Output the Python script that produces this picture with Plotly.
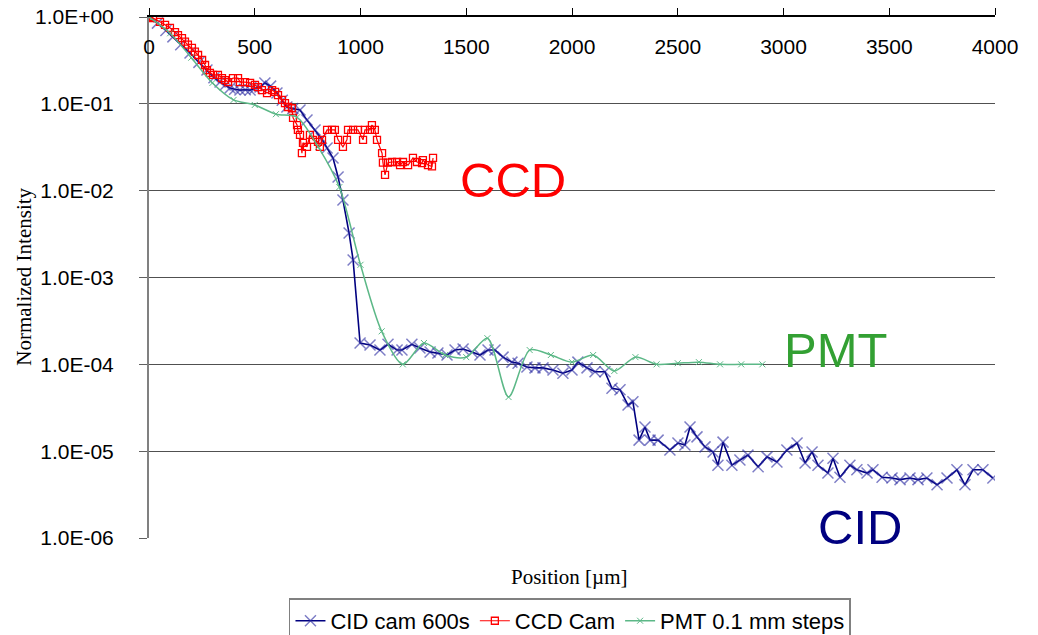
import plotly.graph_objects as go

# ---------------- data ----------------
cid_x = [0, 40, 80, 113, 150, 194, 236, 274, 307, 336, 360, 383, 405, 430, 455, 478, 500, 525, 548, 575,
         605, 630, 652, 680, 714, 747, 785, 815, 842, 870, 894, 917, 946, 965, 998, 1045, 1092, 1130, 1173,
         1196, 1243, 1281, 1329, 1366, 1409, 1447, 1485, 1527, 1565, 1603, 1636, 1674, 1716, 1745, 1787,
         1825, 1863, 1910, 1957, 2000, 2028, 2071, 2109, 2156, 2189, 2227, 2265, 2288, 2317, 2345, 2369,
         2407, 2463, 2501, 2534, 2558, 2591, 2629, 2667, 2690, 2714, 2756, 2794, 2832, 2880, 2922, 2969,
         3016, 3064, 3102, 3135, 3163, 3210, 3234, 3267, 3314, 3347, 3395, 3423, 3466, 3513, 3551, 3598,
         3636, 3678, 3726, 3773, 3820, 3858, 3896, 3943, 3990]
cid_y = [1.0, 0.85, 0.70, 0.59, 0.48, 0.385, 0.30, 0.245, 0.20, 0.178, 0.165, 0.152, 0.147, 0.144, 0.145,
         0.144, 0.150, 0.156, 0.174, 0.160, 0.133, 0.110, 0.092, 0.088, 0.085, 0.065, 0.050, 0.040, 0.031,
         0.0238, 0.0144, 0.0078, 0.00325, 0.00159, 1.76e-4, 1.67e-4, 1.46e-4, 1.70e-4, 1.46e-4, 1.46e-4,
         1.70e-4, 1.54e-4, 1.39e-4, 1.35e-4, 1.28e-4, 1.46e-4, 1.50e-4, 1.39e-4, 1.28e-4, 1.46e-4, 1.46e-4,
         1.21e-4, 1.06e-4, 1.03e-4, 9.3e-5, 9.1e-5, 9.1e-5, 8.6e-5, 7.9e-5, 8.6e-5, 1.06e-4, 9.1e-5, 8.2e-5,
         8.2e-5, 5.3e-5, 5.1e-5, 3.4e-5, 3.7e-5, 1.34e-5, 1.9e-5, 1.34e-5, 1.34e-5, 1.03e-5, 1.24e-5,
         1.18e-5, 1.9e-5, 1.46e-5, 1.12e-5, 9.8e-6, 6.9e-6, 1.27e-5, 6.9e-6, 7.9e-6, 9.0e-6, 6.6e-6, 8.6e-6,
         7.5e-6, 1.03e-5, 1.24e-5, 7.3e-6, 9.8e-6, 6.9e-6, 5.6e-6, 8.3e-6, 5.0e-6, 6.9e-6, 6.1e-6, 5.6e-6,
         6.1e-6, 5.0e-6, 4.9e-6, 4.7e-6, 4.9e-6, 4.7e-6, 4.9e-6, 4.1e-6, 4.9e-6, 6.1e-6, 4.1e-6, 6.1e-6,
         6.1e-6, 4.9e-6]

ccd_x = [0, 19, 52, 76, 99, 123, 137, 156, 170, 184, 203, 217, 232, 251, 265, 274, 288, 303, 326, 345,
         359, 374, 397, 421, 430, 454, 478, 501, 515, 534, 558, 582, 596, 610, 629, 643, 657, 676, 681,
         700, 704, 714, 723, 728, 747, 761, 775, 799, 808, 818, 842, 865, 879, 894, 917, 936, 941, 965,
         988, 1012, 1021, 1045, 1054, 1068, 1078, 1102, 1106, 1116, 1130, 1149, 1173, 1187, 1201, 1225,
         1248, 1267, 1291, 1295, 1319, 1338, 1343]
ccd_y = [1.0, 0.97, 0.88, 0.81, 0.75, 0.67, 0.62, 0.57, 0.52, 0.48, 0.44, 0.40, 0.365, 0.32, 0.28, 0.245,
         0.227, 0.215, 0.215, 0.198, 0.188, 0.178, 0.198, 0.198, 0.178, 0.178, 0.174, 0.165, 0.156, 0.144,
         0.133, 0.144, 0.137, 0.126, 0.111, 0.102, 0.092, 0.089, 0.069, 0.057, 0.050, 0.044, 0.027, 0.0355,
         0.032, 0.044, 0.0385, 0.0365, 0.032, 0.0385, 0.050, 0.050, 0.050, 0.0385, 0.032, 0.0385, 0.050,
         0.050, 0.050, 0.0385, 0.050, 0.050, 0.057, 0.050, 0.0385, 0.027, 0.021, 0.0152, 0.021, 0.0214,
         0.0214, 0.0197, 0.0214, 0.0197, 0.0238, 0.0214, 0.0208, 0.0225, 0.0197, 0.019, 0.0238]

pmt_x = [0, 100, 200, 300, 400, 500, 600, 700, 800, 900, 1000, 1100, 1200, 1300, 1400, 1500, 1600, 1700,
         1800, 1900, 2000, 2100, 2200, 2300, 2400, 2500, 2600, 2700, 2800, 2900]
pmt_y = [1.0, 0.65, 0.34, 0.174, 0.111, 0.097, 0.076, 0.070, 0.032, 0.011, 0.0014, 2.4e-4, 1.0e-4, 1.76e-4,
         1.28e-4, 1.21e-4, 2.0e-4, 4.2e-5, 1.46e-4, 1.28e-4, 1.06e-4, 1.28e-4, 8.4e-5, 1.21e-4, 1.0e-4,
         1.03e-4, 1.06e-4, 1.0e-4, 1.0e-4, 1.0e-4]

x_ticks = [0, 500, 1000, 1500, 2000, 2500, 3000, 3500, 4000]
y_ticks = [1e0, 1e-1, 1e-2, 1e-3, 1e-4, 1e-5, 1e-6]
y_tick_text = ["1.0E+00", "1.0E-01", "1.0E-02", "1.0E-03", "1.0E-04", "1.0E-05", "1.0E-06"]

series_names = ["CID cam 600s", "CCD Cam", "PMT 0.1 mm steps"]

SANS = "Liberation Sans, Arial, sans-serif"
SERIF = "Liberation Serif, Times New Roman, serif"

fig = go.Figure()

fig.add_trace(go.Scatter(
    x=cid_x, y=cid_y, name=series_names[0], mode="lines+markers",
    line=dict(color="#000080", width=1.6),
    marker=dict(symbol="x-thin", size=11, color="rgba(40,40,160,0.6)",
                line=dict(color="rgba(40,40,160,0.6)", width=1.5)),
))
fig.add_trace(go.Scatter(
    x=ccd_x, y=ccd_y, name=series_names[1], mode="lines+markers",
    line=dict(color="#ff0000", width=1.2),
    marker=dict(symbol="square-open", size=7, color="#ff0000", line=dict(width=1.3)),
))
fig.add_trace(go.Scatter(
    x=pmt_x, y=pmt_y, name=series_names[2], mode="lines+markers",
    line=dict(color="#5cb887", width=1.5, shape="spline", smoothing=0.8),
    marker=dict(symbol="x-thin", size=6, color="#5cb887", line=dict(color="#5cb887", width=1)),
))

fig.update_layout(
    width=1038, height=635,
    margin=dict(l=149, r=43, t=17, b=97, autoexpand=False),
    paper_bgcolor="white", plot_bgcolor="white",
    font=dict(family=SANS, color="black"),
    showlegend=True,
    legend=dict(
        orientation="h", x=0.4976, xanchor="center", y=-0.116, yanchor="top",
        bordercolor="#808080", borderwidth=1.5, bgcolor="white",
        font=dict(family=SANS, size=22, color="black"),
        tracegroupgap=0,
    ),
    xaxis=dict(
        range=[0, 4000], side="top", tickvals=x_ticks,
        ticks="outside", ticklen=7, tickcolor="black", tickwidth=1,
        ticklabelposition="inside", ticklabeloverflow="allow", ticklabelstandoff=24,
        tickfont=dict(family=SANS, size=21, color="black"),
        showline=True, linecolor="black", linewidth=1.5,
        showgrid=False, zeroline=False, mirror=False, automargin=False,
    ),
    yaxis=dict(
        type="log", range=[-6, 0], tickvals=y_ticks, ticktext=y_tick_text,
        ticks="outside", ticklen=8, tickcolor="#606060", tickwidth=1.2,
        ticklabeloverflow="allow", ticklabelstandoff=21,
        tickfont=dict(family=SANS, size=21, color="black"),
        showline=True, linecolor="#808080", linewidth=2,
        showgrid=True, gridcolor="#505050", gridwidth=1.3,
        zeroline=False, automargin=False,
    ),
    annotations=[
        dict(text="CCD", xref="paper", yref="paper", x=0.430, y=0.687, showarrow=False,
             xanchor="center", yanchor="middle",
             font=dict(family=SANS, size=49, color="#ff0000")),
        dict(text="PMT", xref="paper", yref="paper", x=0.812, y=0.361, showarrow=False,
             xanchor="center", yanchor="middle",
             font=dict(family=SANS, size=49, color="#33a033")),
        dict(text="CID", xref="paper", yref="paper", x=0.840, y=0.021, showarrow=False,
             xanchor="center", yanchor="middle",
             font=dict(family=SANS, size=49, color="#000080")),
        dict(text="Position [µm]", xref="paper", yref="paper", x=0.4976, y=-0.075, showarrow=False,
             xanchor="center", yanchor="middle",
             font=dict(family=SERIF, size=21, color="black")),
        dict(text="Normalized Intensity", xref="paper", yref="paper", x=-0.148, y=0.501,
             showarrow=False, textangle=-90, xanchor="center", yanchor="middle",
             font=dict(family=SERIF, size=21, color="black")),
    ],
)

# remove the browser's default 8px body margin so the figure fills the window exactly
fig.write_html("out.html", config={"displayModeBar": False},
               post_script="document.body.style.margin='0px';")
